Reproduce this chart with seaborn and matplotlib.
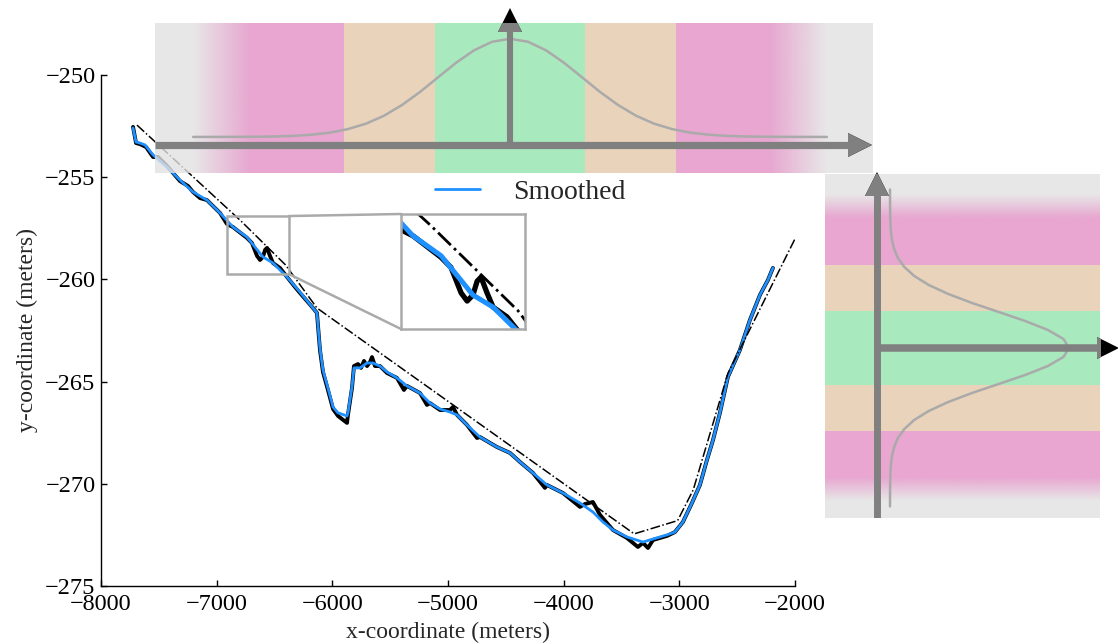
import numpy as np
import seaborn as sns
import matplotlib.pyplot as plt
from matplotlib.patches import Rectangle, ConnectionPatch

# raw track (black)
raw_x = [-7723, -7697, -7663, -7611, -7550, -7507, -7429, -7317, -7248, -7205, -7144, -7084,
         -6971, -6911, -6859, -6738, -6695, -6651, -6625, -6600, -6582, -6565, -6539, -6513,
         -6453, -6392, -6323, -6280, -6167, -6133, -6107, -6081, -6038, -5994, -5951, -5873,
         -5865, -5830, -5813, -5778, -5752, -5726, -5700, -5674, -5657, -5631, -5588, -5527,
         -5441, -5381, -5355, -5242, -5182, -5156, -5069, -4983, -4957, -4922, -4836, -4749,
         -4724, -4577, -4464, -4378, -4265, -4162, -4144, -4006, -3859, -3816, -3747, -3686,
         -3574, -3453, -3358, -3314, -3271, -3228, -3107, -3038, -2969, -2891, -2822, -2761,
         -2709, -2649, -2580, -2476, -2390, -2303, -2234, -2191]
raw_y = [-252.54, -253.33, -253.38, -253.52, -254.01, -254.01, -254.45, -255.19, -255.43, -255.72,
         -256.02, -256.12, -256.75, -257.29, -257.44, -257.97, -258.22, -258.85, -259.05, -258.90,
         -258.56, -258.46, -258.85, -259.20, -259.44, -259.88, -260.37, -260.66, -261.40, -261.64,
         -263.45, -264.53, -265.41, -266.34, -266.68, -267.02, -266.63, -265.31, -264.24, -264.14,
         -264.33, -263.99, -264.24, -264.04, -263.80, -264.24, -264.24, -264.58, -264.82, -265.41,
         -265.21, -265.56, -266.14, -266.05, -266.39, -266.39, -266.24, -266.63, -267.12, -267.76,
         -267.71, -268.20, -268.49, -268.93, -269.47, -270.20, -270.06, -270.45, -271.13, -270.99,
         -270.89, -271.52, -272.26, -272.65, -273.09, -272.89, -273.14, -272.75, -272.55, -272.36,
         -271.87, -270.94, -270.06, -268.83, -267.86, -266.53, -264.77, -263.45, -261.99, -260.76,
         -260.03, -259.44]

# smoothed track (blue)
smooth_x = [-7723, -7697, -7663, -7620, -7550, -7429, -7317, -7205, -7084, -6971, -6859, -6738,
            -6600, -6513, -6392, -6280, -6167, -6133, -6107, -6081, -6038, -5994, -5951, -5873,
            -5865, -5830, -5813, -5761, -5700, -5649, -5588, -5527, -5441, -5355, -5242, -5156,
            -5069, -4983, -4922, -4836, -4724, -4577, -4464, -4378, -4265, -4144, -4006, -3859,
            -3747, -3660, -3574, -3453, -3314, -3228, -3107, -3038, -2969, -2891, -2822, -2761,
            -2709, -2649, -2580, -2476, -2390, -2303, -2234, -2191]
smooth_y = [-252.59, -253.28, -253.33, -253.42, -253.91, -254.50, -255.14, -255.72, -256.12, -256.75,
            -257.44, -257.93, -258.90, -259.20, -259.88, -260.62, -261.40, -261.64, -263.36, -264.43,
            -265.31, -266.24, -266.53, -266.68, -266.53, -265.26, -264.33, -264.33, -264.09, -264.09,
            -264.24, -264.53, -264.82, -265.21, -265.56, -266.05, -266.34, -266.49, -266.63, -267.12,
            -267.71, -268.20, -268.49, -268.93, -269.47, -270.06, -270.45, -270.94, -271.38, -271.87,
            -272.26, -272.60, -272.85, -272.70, -272.50, -272.36, -271.87, -270.94, -270.06, -268.83,
            -267.86, -266.53, -264.77, -263.45, -261.99, -260.76, -260.03, -259.44]

# piecewise trend (dash-dot)
trend_x = [-7689, -6785, -6405, -6133, -3390, -3015, -2880, -2580, -1990]
trend_y = [-252.45, -257.17, -259.29, -261.40, -272.45, -271.80, -270.30, -264.60, -257.90]

# zoom window
zoom_x = (-6911, -6375)
zoom_y = (-259.74, -256.90)

# bell curve profile (offset in sigma, relative height)
bell_offsets = [0, 0.25, 0.5, 0.75, 1.0, 1.25, 1.5, 1.75, 2.0, 2.25, 2.5, 2.75, 3.0, 3.25, 3.5,
                3.75, 4.0, 4.4]
bell_heights = [1.0, 0.969, 0.882, 0.755, 0.607, 0.458, 0.325, 0.216, 0.135, 0.080, 0.044, 0.023,
                0.011, 0.005, 0.002, 0.001, 0.0003, 0.0]
band_edges = [1.04, 2.31, 3.6]

PINK = "#e8a6d0"
PEACH = "#e9d3bb"
GREEN = "#a8e9bd"
BG = "#e2e2e2"
ARROW = "#808080"
CURVE = "#aaaaaa"

sns.set_style("ticks")
plt.rcParams["font.family"] = ["Liberation Serif", "DejaVu Serif"]
plt.rcParams["xtick.direction"] = "in"
plt.rcParams["ytick.direction"] = "in"

W, H = 1118, 644
fig = plt.figure(figsize=(W / 100, H / 100), dpi=100)


def px_axes(x0, y0, x1, y1):
    return fig.add_axes([x0 / W, 1 - y1 / H, (x1 - x0) / W, (y1 - y0) / H])


# main axes
ax = px_axes(101, 75, 795, 586)
sns.lineplot(x=raw_x, y=raw_y, ax=ax, color="black", linewidth=2.8, sort=False, estimator=None)
sns.lineplot(x=smooth_x, y=smooth_y, ax=ax, color="#1e90ff", linewidth=2.0, sort=False,
             estimator=None)
smooth_line = ax.lines[-1]
sns.lineplot(x=trend_x, y=trend_y, ax=ax, color="black", linewidth=1.1, linestyle="-.",
             sort=False, estimator=None)
ax.set_xlim(-8000, -2000)
ax.set_ylim(-275, -250)
ax.set_xticks(np.arange(-8000, -1999, 1000))
ax.set_yticks(np.arange(-275, -249, 5))
sns.despine(ax=ax)
for s in ["left", "bottom"]:
    ax.spines[s].set_linewidth(1.0)
    ax.spines[s].set_color("black")
ax.tick_params(labelsize=17.5, length=4.5, width=1, colors="black")
ax.tick_params(axis="x", pad=5.5)
ax.tick_params(axis="y", pad=4)
ax.set_xlabel("x-coordinate (meters)", fontsize=17, labelpad=5)
ax.set_ylabel("y-coordinate (meters)", fontsize=17, labelpad=5)
smooth_line.set_label("Smoothed")
ax.legend(handles=[smooth_line], loc="center left", bbox_to_anchor=(0.4813, 0.771),
          frameon=False, fontsize=20, handlelength=1.62, handletextpad=1.19,
          borderpad=0, borderaxespad=0)

# zoom box + magnified inset
ax.add_patch(Rectangle((zoom_x[0], zoom_y[0]), zoom_x[1] - zoom_x[0], zoom_y[1] - zoom_y[0],
                       fill=False, ec=CURVE, lw=1.8, zorder=5))
axins = px_axes(401, 214, 525, 329)
sns.lineplot(x=raw_x, y=raw_y, ax=axins, color="black", linewidth=3.8, sort=False, estimator=None)
sns.lineplot(x=smooth_x, y=smooth_y, ax=axins, color="#1e90ff", linewidth=3.6, sort=False,
             estimator=None)
sns.lineplot(x=trend_x, y=trend_y, ax=axins, color="black", linewidth=2.0, linestyle="-.",
             sort=False, estimator=None)
axins.set_xlim(*zoom_x)
axins.set_ylim(*zoom_y)
axins.set_xticks([])
axins.set_yticks([])
for s in axins.spines.values():
    s.set_color(CURVE)
    s.set_linewidth(1.8)
for ya, yb in [(zoom_y[1], 1), (zoom_y[0], 0)]:
    con = ConnectionPatch(xyA=(zoom_x[1], ya), coordsA=ax.transData, xyB=(0, yb),
                          coordsB=axins.transAxes, color=CURVE, lw=1.8)
    fig.add_artist(con)


def fade(a, extent, vertical, rising):
    ramp = np.linspace(0, 1, 64)
    if not rising:
        ramp = ramp[::-1]
    rgba = np.zeros((1, 64, 4))
    rgba[..., :3] = plt.matplotlib.colors.to_rgb(PINK)
    rgba[..., 3] = ramp
    if vertical:
        rgba = rgba.transpose(1, 0, 2)
    a.imshow(rgba, extent=extent, aspect="auto", origin="lower", interpolation="bilinear",
             zorder=2)


def arrow(a, x0, y0, x1, y1, marker, ms, lw):
    a.plot([x0, x1], [y0, y1], color=ARROW, lw=lw, solid_capstyle="butt", zorder=5)
    a.plot([x1], [y1], marker=marker, ms=ms, mew=0, color="black", clip_on=False, zorder=4)
    a.plot([x1], [y1], marker=marker, ms=ms, mew=0, color=ARROW, zorder=6)


band_cols = [PINK, PEACH, GREEN, PEACH, PINK]
band_lo = [-band_edges[2], -band_edges[1], -band_edges[0], band_edges[0], band_edges[1]]
band_hi = [-band_edges[1], -band_edges[0], band_edges[0], band_edges[1], band_edges[2]]
bell_u = [-o for o in bell_offsets[::-1][:-1]] + bell_offsets
bell_h = bell_heights[::-1][:-1] + bell_heights

# top panel (horizontal bell)
top = px_axes(155, 22.7, 873, 173)
top.axis("off")
top.axvspan(-4.93, 5.04, color=BG, alpha=0.8, lw=0, zorder=1)
for lo, hi, c in zip(band_lo, band_hi, band_cols):
    top.axvspan(lo, hi, color=c, lw=0, zorder=2)
fade(top, (-4.4, -band_edges[2], 0, 150), False, True)
fade(top, (band_edges[2], 4.4, 0, 150), False, False)
sns.lineplot(x=bell_u, y=[36 + 98 * h for h in bell_h], ax=top, color=CURVE, linewidth=1.8,
             sort=False, estimator=None, zorder=3)
arrow(top, -4.93, 28, 4.86, 28, ">", 17.3, 5.2)
arrow(top, 0, 28, 0, 153, "^", 17.3, 4.4)
top.set_xlim(-4.93, 5.04)
top.set_ylim(0, 150)

# right panel (vertical bell)
side = px_axes(825, 174, 1100, 518)
side.axis("off")
side.axhspan(-4.72, 4.83, color=BG, alpha=0.8, lw=0, zorder=1)
for lo, hi, c in zip(band_lo, band_hi, band_cols):
    side.axhspan(lo, hi, color=c, lw=0, zorder=2)
fade(side, (0, 275, band_edges[2], 4.25), True, False)
fade(side, (0, 275, -4.25, -band_edges[2]), True, True)
sns.lineplot(x=[65 + 179 * h for h in bell_h], y=bell_u, ax=side, color=CURVE, linewidth=1.8,
             sort=False, estimator=None, zorder=3)
arrow(side, 52, -4.72, 52, 4.54, "^", 16.6, 5.0)
arrow(side, 52, 0, 283, 0, ">", 16.0, 5.4)
side.set_xlim(0, 275)
side.set_ylim(-4.72, 4.83)

fig.savefig("out.png", dpi=100)
